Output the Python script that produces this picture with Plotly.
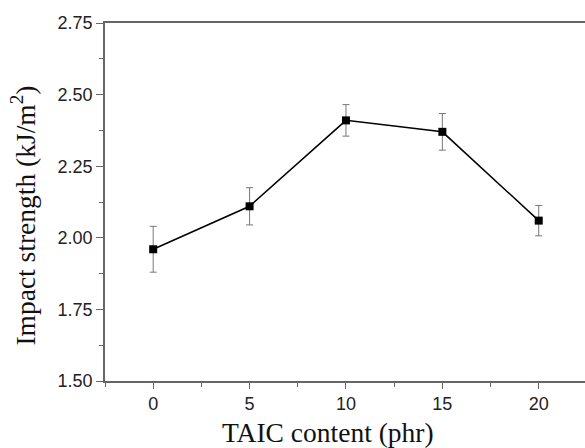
import plotly.graph_objects as go

taic = [0, 5, 10, 15, 20]
impact = [1.96, 2.11, 2.41, 2.37, 2.06]
err = [0.08, 0.065, 0.055, 0.064, 0.053]
x_ticks = [0, 5, 10, 15, 20]
y_ticks = [1.50, 1.75, 2.00, 2.25, 2.50, 2.75]
x_title = "TAIC content (phr)"
y_title = "Impact strength (kJ/m<sup>2</sup>)"

fig = go.Figure()
fig.add_trace(go.Scatter(
    x=taic, y=impact, mode="lines+markers",
    line=dict(color="black", width=1.5),
    marker=dict(symbol="square", size=8, color="black"),
    error_y=dict(type="data", array=err, visible=True, color="#777777", thickness=1, width=3.5),
    showlegend=False,
))

tick_font = dict(family="Liberation Sans, Arial", size=18, color="#222222")
title_font = dict(family="Liberation Serif, Times New Roman", size=27.5, color="#111111")

fig.update_xaxes(
    range=[-2.5, 22.4], tickvals=x_ticks,
    showgrid=False, zeroline=False, showline=True, linecolor="#666666", linewidth=1.5,
    mirror=True, ticks="outside", ticklen=6, tickcolor="#666666", tickwidth=1,
    tickfont=tick_font,
    minor=dict(dtick=2.5, tick0=-2.5, ticks="outside", ticklen=4, tickcolor="#666666"),
)
fig.update_yaxes(
    range=[1.5, 2.75], tickvals=y_ticks, tickformat=".2f",
    showgrid=False, zeroline=False, showline=True, linecolor="#666666", linewidth=1.5,
    mirror=False, ticks="outside", ticklen=7, tickcolor="#666666", tickwidth=1,
    tickfont=tick_font,
    minor=dict(dtick=0.125, tick0=1.5, ticks="outside", ticklen=4, tickcolor="#666666"),
)
# plot area spans page x 105..585 (480 px), y 22.7..381 (358.3 px)
fig.add_annotation(text=x_title, xref="paper", yref="paper", x=(327.5 - 105) / 480, y=-0.145,
                   xanchor="center", yanchor="middle", showarrow=False, font=title_font)
fig.add_annotation(text=y_title, xref="paper", yref="paper", x=(24 - 105) / 480, y=0.462,
                   xanchor="center", yanchor="middle", textangle=-90, showarrow=False, font=title_font)
fig.update_layout(
    width=585, height=448,
    margin=dict(l=105, r=0, t=23, b=67),
    plot_bgcolor="white", paper_bgcolor="white",
)
fig.write_html("out.html", config={"displayModeBar": False},
               post_script="document.body.style.margin='0';document.body.style.overflow='hidden';")
